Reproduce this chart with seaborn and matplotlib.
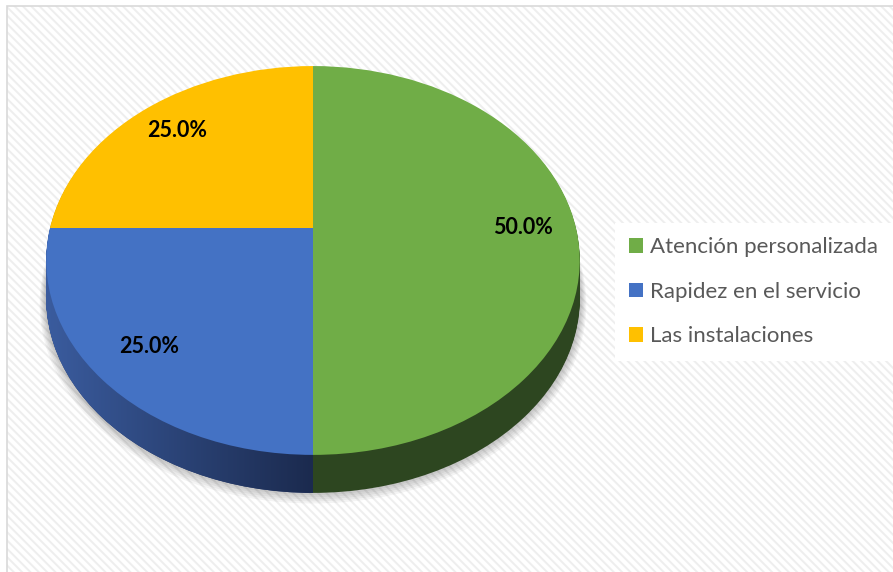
import numpy as np
import matplotlib
matplotlib.use("Agg")
import matplotlib.pyplot as plt
import matplotlib.transforms as mtransforms
from matplotlib.patches import Rectangle
from matplotlib.path import Path
import seaborn as sns

categories = ["Atención personalizada", "Rapidez en el servicio", "Las instalaciones"]
shares = [50.0, 25.0, 25.0]
top_colors = ["#70AD47", "#4472C4", "#FFC000"]
side_colors = ["#2D4620", "#24386A", "#7F6000"]

sns.set_theme(style="white")
plt.rcParams["font.family"] = ["Lato", "DejaVu Sans"]
plt.rcParams["hatch.linewidth"] = 1.4

W, H = 893, 572
fig = plt.figure(figsize=(W / 100, H / 100), dpi=100)
fig.patch.set_facecolor("white")

# hatched chart area inside a thin grey frame
bg = Rectangle((7 / W, -0.02), 1.0, 1.02 - 6 / H, transform=fig.transFigure,
               facecolor="white", edgecolor="#eeeeee", linewidth=0,
               hatch="\\\\\\\\", zorder=0)
fig.add_artist(bg)
frame = Rectangle((7 / W, -0.02), 1.0, 1.02 - 6 / H, transform=fig.transFigure,
                  facecolor="none", edgecolor="#d9d9d9", linewidth=1.2, zorder=0.5)
fig.add_artist(frame)

ax = fig.add_axes([0, 0, 1, 1])
ax.set_facecolor("none")


class Perspective(mtransforms.Transform):
    """Tilts the pie plane away from the viewer (far edge shrinks)."""
    input_dims = output_dims = 2
    is_separable = False
    has_inverse = False

    def __init__(self, k):
        super().__init__()
        self.k = k

    def transform_non_affine(self, values):
        v = np.asarray(values, dtype=float)
        w = 1.0 + self.k * v[:, 1]
        return np.column_stack([v[:, 0] / w, v[:, 1] / w])


persp = Perspective(0.167)
DEPTH = 38          # thickness of the disc, in pixels
PIE = dict(startangle=90, counterclock=False)


def place(artists, dy=0.0):
    tr = persp + ax.transData + mtransforms.Affine2D().translate(0, -dy)
    for a in artists:
        a.set_transform(tr)
    return tr


# soft drop shadow under the disc
for i in range(1, 7):
    sw, _ = ax.pie(shares, colors=[(0, 0, 0, 0.045)] * 3, radius=1 + 0.004 * i,
                   wedgeprops=dict(linewidth=0), **PIE)
    place(sw, dy=DEPTH - 2 + i)

# side wall of the disc
side_layers = []
for d in range(DEPTH, 0, -1):
    sw, _ = ax.pie(shares, colors=side_colors, wedgeprops=dict(linewidth=0), **PIE)
    place(sw, dy=d)
    side_layers.append((d, sw))

# top face
wedges, _, autotexts = ax.pie(
    shares, colors=top_colors, autopct="%1.1f%%", pctdistance=0.8,
    textprops=dict(fontsize=15.5, fontweight="bold", color="black"),
    wedgeprops=dict(linewidth=0), **PIE)
place(wedges)
place(autotexts)
for w in wedges:
    w.set_zorder(5)
for t in autotexts:
    t.set_zorder(6)

ax.set_aspect("auto")
SX, SY, CX, CY = 263.0, 189.0, 313.0, 228.0
ax.set_xlim(-CX / SX, (W - CX) / SX)
ax.set_ylim(-(H - CY) / SY, CY / SY)
ax.axis("off")

# shaded gradient on the front-left part of the wall
paths = []
for d, sw in side_layers:
    blue = sw[1]
    paths.append(blue.get_transform().transform_path(blue.get_path()))
clip = Path.make_compound_path(*paths)
grad = np.linspace(0, 1, 256)[None, :]
cmap = matplotlib.colors.LinearSegmentedColormap.from_list("wall", ["#3d60a5", "#1b2a4e"])
img = ax.imshow(grad, cmap=cmap, extent=(-1.1, 0.0, -1.8, 0.2), aspect="auto",
                zorder=2, interpolation="bilinear")
img.set_clip_path(clip, mtransforms.IdentityTransform())
ax.set_xlim(-CX / SX, (W - CX) / SX)
ax.set_ylim(-(H - CY) / SY, CY / SY)

leg = fig.legend(wedges, categories, loc="upper left",
                 bbox_to_anchor=(615 / W, 1 - 223 / H), bbox_transform=fig.transFigure,
                 frameon=True, fancybox=False, facecolor="white", edgecolor="none",
                 framealpha=1, fontsize=16, labelcolor="#595959",
                 handlelength=0.63, handleheight=0.63, handletextpad=0.3,
                 labelspacing=1.1, borderpad=0.65, borderaxespad=0)

fig.savefig("out.png", dpi=100, facecolor="white")
